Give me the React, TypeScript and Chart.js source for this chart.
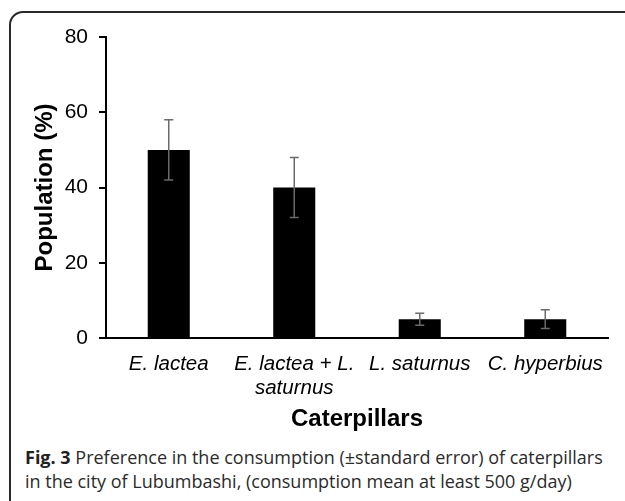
import React, { useEffect, useRef } from "react";
import { Chart, registerables } from "chart.js";

Chart.register(...registerables);

const categories: (string | string[])[] = [
  "E. lactea",
  ["E. lactea + L.", "saturnus"],
  "L. saturnus",
  "C. hyperbius",
];
const values = [50, 40, 5, 5];
const errors = [8, 8, 1.6, 2.5];
const yTicks = [0, 20, 40, 60, 80];

const FONT = "'Liberation Sans', Arial, Helvetica, sans-serif";

const errorBarPlugin = {
  id: "errorBars",
  afterDatasetsDraw(chart: any) {
    const { ctx } = chart;
    const y = chart.scales.y;
    const meta = chart.getDatasetMeta(0);
    ctx.save();
    ctx.strokeStyle = "#6a6a6a";
    ctx.lineWidth = 1.5;
    meta.data.forEach((bar: any, i: number) => {
      const x = bar.x;
      const top = y.getPixelForValue(values[i] + errors[i]);
      const bot = y.getPixelForValue(values[i] - errors[i]);
      ctx.beginPath();
      ctx.moveTo(x, top);
      ctx.lineTo(x, bot);
      ctx.moveTo(x - 4.5, top);
      ctx.lineTo(x + 4.5, top);
      ctx.moveTo(x - 4.5, bot);
      ctx.lineTo(x + 4.5, bot);
      ctx.stroke();
    });
    ctx.restore();
  },
};

export default function App() {
  const ref = useRef<HTMLCanvasElement | null>(null);

  useEffect(() => {
    if (!ref.current) return;
    const chart = new Chart(ref.current, {
      type: "bar",
      data: {
        labels: categories as any,
        datasets: [
          {
            data: values,
            backgroundColor: "#000000",
            borderWidth: 0,
            barPercentage: 0.335,
            categoryPercentage: 1,
          },
        ],
      },
      options: {
        responsive: false,
        animation: false,
        devicePixelRatio: 1,
        layout: { padding: { top: 37, right: 17, left: 0, bottom: 0 } },
        plugins: {
          legend: { display: false },
          tooltip: { enabled: false },
        },
        scales: {
          x: {
            grid: { display: false, drawTicks: false },
            border: { display: true, color: "#000000", width: 2 },
            ticks: {
              color: "#000000",
              padding: 14,
              maxRotation: 0,
              autoSkip: false,
              font: { family: FONT, size: 20.5, style: "italic", lineHeight: 1.17 },
            },
            title: {
              display: true,
              text: "Caterpillars",
              color: "#000000",
              font: { family: FONT, size: 24, weight: "bold", lineHeight: 1.2 },
              padding: { top: 0, bottom: 6 },
            },
            afterFit(scale: any) {
              scale.height = 102;
            },
          },
          y: {
            min: 0,
            max: 80,
            afterBuildTicks(scale: any) {
              scale.ticks = yTicks.map((v) => ({ value: v }));
            },
            grid: {
              display: true,
              drawOnChartArea: false,
              drawTicks: true,
              tickLength: 7,
              color: "#000000",
              lineWidth: 2,
            },
            border: { display: true, color: "#000000", width: 2 },
            ticks: {
              color: "#000000",
              padding: 11,
              font: { family: FONT, size: 21 },
            },
            title: {
              display: true,
              text: "Population (%)",
              color: "#000000",
              font: { family: FONT, size: 24, weight: "bold", lineHeight: 1.2 },
              padding: { top: 31, bottom: 0 },
            },
            afterFit(scale: any) {
              scale.width = 106;
            },
          },
        },
      },
      plugins: [errorBarPlugin],
    });
    return () => chart.destroy();
  }, []);

  return (
    <div
      style={{
        position: "absolute",
        left: 0,
        top: 0,
        width: 625,
        height: 501,
        overflow: "hidden",
        background: "#ffffff",
      }}
    >
      <div
        style={{
          position: "absolute",
          left: 9,
          top: 11,
          width: 660,
          height: 540,
          border: "2px solid #2a2a2a",
          borderRadius: 14,
          boxSizing: "border-box",
        }}
      />
      <canvas
        ref={ref}
        width={625}
        height={440}
        style={{ position: "absolute", left: 0, top: 0, width: 625, height: 440 }}
      />
      <div
        style={{
          position: "absolute",
          left: 25,
          top: 445,
          fontFamily: "'Open Sans', 'Noto Sans', sans-serif",
          fontSize: 18,
          lineHeight: "24px",
          color: "#2b2b2b",
          whiteSpace: "nowrap",
        }}
      >
        <b style={{ color: "#222" }}>Fig. 3</b> Preference in the consumption (±standard error) of caterpillars
        <br />
        in the city of Lubumbashi, (consumption mean at least 500 g/day)
      </div>
    </div>
  );
}
